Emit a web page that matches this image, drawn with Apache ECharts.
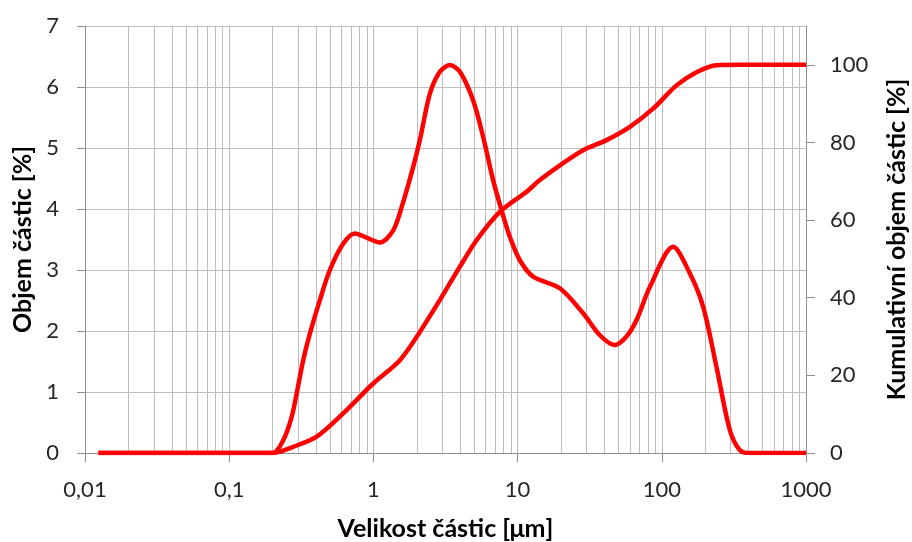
<!DOCTYPE html>
<html>
<head>
<meta charset="utf-8">
<script src="https://cdn.jsdelivr.net/npm/echarts@6/dist/echarts.min.js"></script>
<style>
  html, body { margin: 0; padding: 0; background: #ffffff; }
  #chart { width: 912px; height: 542px; }
</style>
</head>
<body>
<div id="chart"></div>
<script>
// ---- data ----
const xTickValues = [0.01, 0.1, 1, 10, 100, 1000];
const xTickLabels = ['0,01', '0,1', '1', '10', '100', '1000'];
const rightTickValues = [0, 20, 40, 60, 80, 100];

// particle volume distribution [%] (left axis)
const freqX = [0.0124, 0.05, 0.1, 0.2, 0.237, 0.271, 0.294, 0.326, 0.363, 0.426, 0.499, 0.617, 0.744, 0.897, 1.11, 1.372, 1.57, 1.888, 2.10, 2.465, 2.89, 3.39, 3.98, 4.92, 5.77, 6.77, 7.74, 8.84, 10.37, 12.82, 19.63, 28.48, 37.2, 47.2, 56.9, 66.8, 82.6, 119.8, 156, 193.4, 239.5, 296, 347, 407, 1000];
const freqY = [0, 0, 0, 0, 0.21, 0.59, 0.98, 1.52, 1.96, 2.51, 3.0, 3.43, 3.6, 3.53, 3.45, 3.65, 4.03, 4.69, 5.13, 5.89, 6.25, 6.36, 6.25, 5.78, 5.18, 4.47, 3.98, 3.54, 3.16, 2.89, 2.70, 2.29, 1.93, 1.77, 1.91, 2.18, 2.72, 3.38, 2.95, 2.40, 1.41, 0.38, 0.05, 0, 0];

// cumulative volume [%] (right axis)
const cumX = [0.0124, 0.05, 0.1, 0.2, 0.278, 0.404, 0.617, 0.997, 1.527, 2.10, 2.89, 3.98, 5.19, 7.53, 11.53, 14.27, 19.63, 28.48, 41.4, 60, 87, 126.5, 174, 239.5, 347, 1000];
const cumY = [0, 0, 0, 0, 1.6, 4.2, 10.2, 17.9, 23.9, 31.2, 39.4, 48.0, 54.8, 62.1, 67.3, 70.3, 74.1, 78.0, 80.6, 84.0, 88.7, 94.7, 98.1, 99.9, 100, 100];

// ---- vertical grid positions (1..9 per decade) ----
const gridValues = [];
for (let d = -2; d < 3; d++) {
  for (let m = 1; m <= 9; m++) gridValues.push(+(m * Math.pow(10, d)).toPrecision(6));
}
gridValues.push(1000);

const FONT = 'Lato';
const gridColor = '#bdbdbd';
const axisColor = '#8f8f8f';
const textColor = '#262626';

const chart = echarts.init(document.getElementById('chart'), null, { renderer: 'canvas' });
chart.setOption({
  backgroundColor: '#ffffff',
  animation: false,
  grid: { left: 85, right: 106, top: 26, bottom: 89, containLabel: false, outerBoundsMode: 'none' },
  xAxis: [
    {
      type: 'log', logBase: 10, min: 0.01, max: 1000,
      position: 'bottom',
      name: 'Velikost částic [μm]',
      nameLocation: 'middle', nameGap: 63,
      nameTextStyle: { fontFamily: FONT, fontWeight: 'bold', fontSize: 25, color: '#000' },
      axisLine: { show: true, lineStyle: { color: axisColor, width: 1 } },
      axisTick: { show: true, length: 9, lineStyle: { color: axisColor }, customValues: xTickValues },
      axisLabel: {
        customValues: xTickValues,
        margin: 26,
        fontFamily: FONT, fontSize: 22, color: textColor,
        formatter: function (v) {
          const i = Math.round(Math.log10(v)) + 2;
          return xTickLabels[i] !== undefined ? xTickLabels[i] : '';
        }
      },
      splitLine: { show: false }
    },
    {
      type: 'log', logBase: 10, min: 0.01, max: 1000,
      position: 'bottom',
      axisLine: { show: false },
      axisTick: { show: false, customValues: gridValues },
      axisLabel: { show: false },
      splitLine: { show: true, lineStyle: { color: gridColor, width: 1 } }
    }
  ],
  yAxis: [
    {
      type: 'value', min: 0, max: 7, interval: 1,
      position: 'left',
      name: 'Objem částic [%]',
      nameLocation: 'middle', nameGap: 50, nameRotate: 90,
      nameTextStyle: { fontFamily: FONT, fontWeight: 'bold', fontSize: 25, color: '#000' },
      axisLine: { show: true, lineStyle: { color: axisColor } },
      axisTick: { show: true, length: 8, lineStyle: { color: axisColor } },
      axisLabel: { margin: 26, fontFamily: FONT, fontSize: 22, color: textColor },
      splitLine: { show: true, lineStyle: { color: gridColor, width: 1 } }
    },
    {
      type: 'value', min: 0, max: 110, interval: 20,
      position: 'right',
      name: 'Kumulativní objem částic [%]',
      nameLocation: 'middle', nameGap: 78, nameRotate: 90,
      nameTextStyle: { fontFamily: FONT, fontWeight: 'bold', fontSize: 25, color: '#000' },
      axisLine: { show: true, lineStyle: { color: axisColor } },
      axisTick: { show: true, length: 9, lineStyle: { color: axisColor }, customValues: rightTickValues },
      axisLabel: {
        customValues: rightTickValues,
        margin: 24, fontFamily: FONT, fontSize: 22, color: textColor,
        formatter: function (v) { return v > 100 ? '' : String(v); }
      },
      splitLine: { show: false }
    }
  ],
  series: [
    {
      name: 'Objem částic',
      type: 'line',
      xAxisIndex: 0, yAxisIndex: 0,
      data: freqX.map((x, i) => [x, freqY[i]]),
      smooth: 0.3,
      showSymbol: false, symbol: 'none',
      lineStyle: { color: '#ff0000', width: 4.5 },
      z: 5
    },
    {
      name: 'Kumulativní objem částic',
      type: 'line',
      xAxisIndex: 0, yAxisIndex: 1,
      data: cumX.map((x, i) => [x, cumY[i]]),
      smooth: 0.3,
      showSymbol: false, symbol: 'none',
      lineStyle: { color: '#ff0000', width: 4.5 },
      z: 5
    }
  ]
});
</script>
</body>
</html>
